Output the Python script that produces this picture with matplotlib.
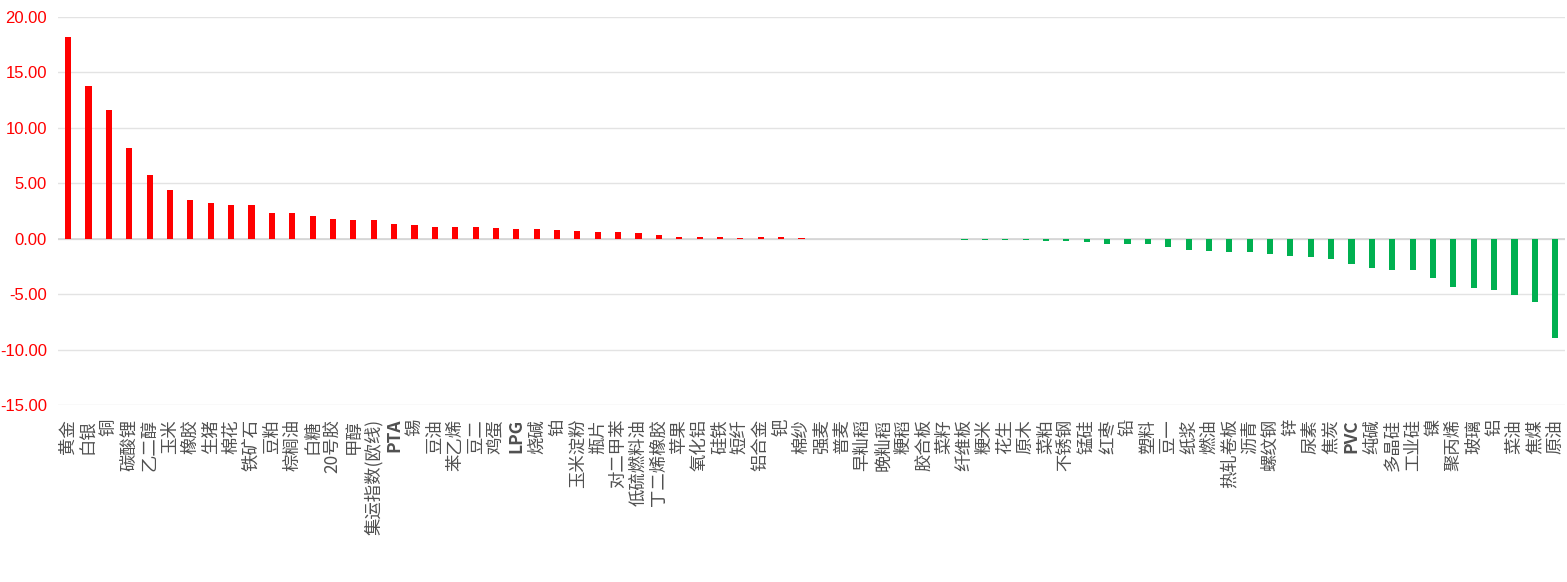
import matplotlib
matplotlib.use("Agg")
import matplotlib.pyplot as plt

plt.rcParams['font.family'] = ['Noto Sans CJK SC', 'DejaVu Sans']

names = ["黄金", "白银", "铜", "碳酸锂", "乙二醇", "玉米", "橡胶", "生猪", "棉花", "铁矿石",
         "豆粕", "棕榈油", "白糖", "20号胶", "甲醇", "集运指数(欧线)", "PTA", "锡", "豆油", "苯乙烯",
         "豆二", "鸡蛋", "LPG", "烧碱", "铂", "玉米淀粉", "瓶片", "对二甲苯", "低硫燃料油", "丁二烯橡胶",
         "苹果", "氧化铝", "硅铁", "短纤", "铝合金", "钯", "棉纱", "强麦", "普麦", "早籼稻",
         "晚籼稻", "粳稻", "胶合板", "菜籽", "纤维板", "粳米", "花生", "原木", "菜粕", "不锈钢",
         "锰硅", "红枣", "铅", "塑料", "豆一", "纸浆", "燃油", "热轧卷板", "沥青", "螺纹钢",
         "锌", "尿素", "焦炭", "PVC", "纯碱", "多晶硅", "工业硅", "镍", "聚丙烯", "玻璃",
         "铝", "菜油", "焦煤", "原油"]

# percentage change
pct = [18.19, 13.80, 11.63, 8.19, 5.75, 4.40, 3.49, 3.22, 3.04, 3.04,
       2.32, 2.32, 2.05, 1.78, 1.70, 1.70, 1.35, 1.25, 1.07, 1.07,
       1.07, 0.99, 0.90, 0.90, 0.81, 0.72, 0.63, 0.63, 0.54, 0.36,
       0.18, 0.18, 0.18, 0.09, 0.18, 0.18, 0.09, 0.0, 0.0, 0.0,
       0.0, 0.0, 0.0, 0.0, -0.09, -0.09, -0.09, -0.09, -0.18, -0.18,
       -0.28, -0.46, -0.46, -0.46, -0.74, -1.01, -1.10, -1.20, -1.20, -1.38,
       -1.56, -1.66, -1.84, -2.30, -2.67, -2.85, -2.85, -3.50, -4.33, -4.42,
       -4.60, -5.06, -5.71, -8.93]

yticks = [-15, -10, -5, 0, 5, 10, 15, 20]

colors = ['#FF0000' if v > 0 else '#00B050' for v in pct]
x = list(range(len(names)))

fig = plt.figure(figsize=(15.67, 5.82), dpi=100)
ax = fig.add_axes([0.037, 0.304, 0.962, 0.667])

ax.bar(x, pct, width=0.3, color=colors, zorder=3)

ax.set_xlim(-0.5, len(names) - 0.5)
ax.set_ylim(-15, 20)
ax.set_yticks(yticks)
ax.set_yticklabels(['%.2f' % t for t in yticks], color='#FF0000',
                   fontsize=12, family=['Liberation Sans', 'DejaVu Sans'])
ax.yaxis.grid(True, color='#e3e3e3', linewidth=1, zorder=0)
ax.axhline(0, color='#d4d4d4', linewidth=1.2, zorder=2)

ax.set_xticks(x)
ax.set_xticklabels(names, rotation=90, fontsize=12.5, color='#505050', va='top')
for lbl in ax.get_xticklabels():
    if lbl.get_text() in ("PTA", "LPG", "PVC"):
        lbl.set_fontweight('bold')

ax.tick_params(axis='both', length=0)
ax.tick_params(axis='x', pad=10)
ax.tick_params(axis='y', pad=8)
for s in ax.spines.values():
    s.set_visible(False)

fig.savefig("out.png", dpi=100, facecolor='white')
